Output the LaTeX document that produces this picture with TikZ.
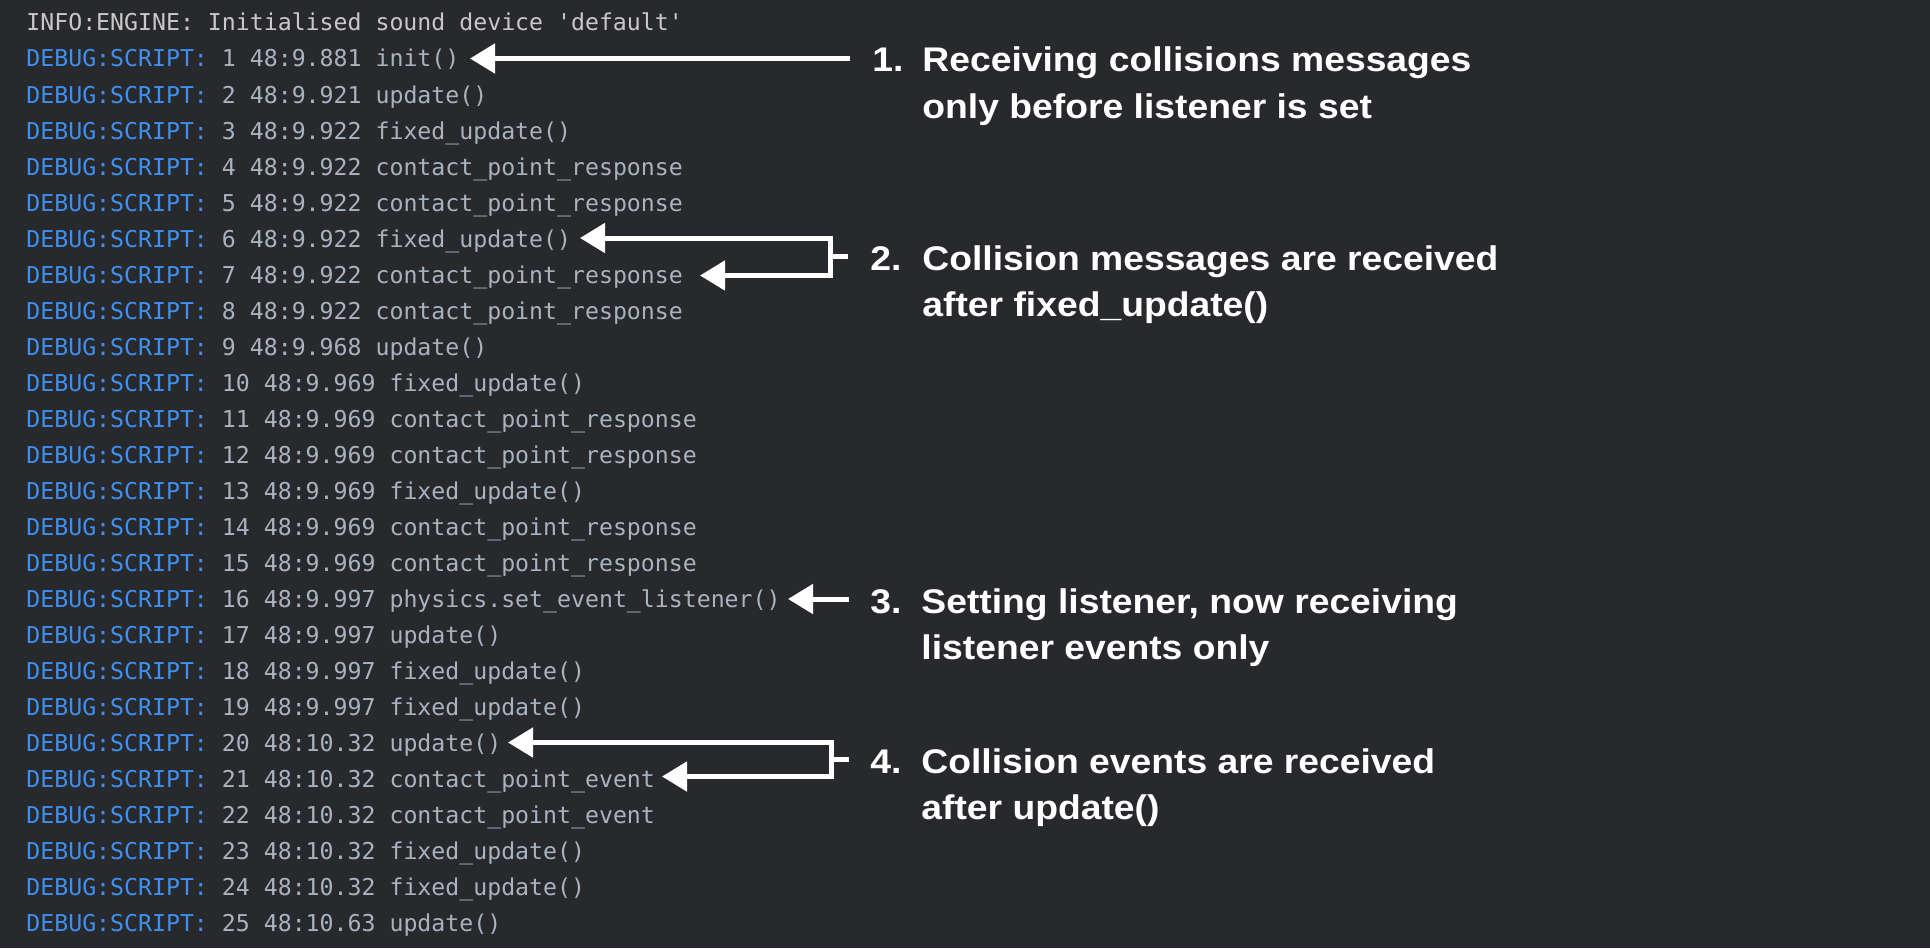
\documentclass[tikz,border=0pt]{standalone}
\usepackage{fontspec}
\setmonofont{DejaVu Sans Mono}
\newfontfamily\labfont{Liberation Sans}[FakeStretch=1.09]
\usetikzlibrary{arrows.meta}
\definecolor{bg}{HTML}{28292D}
\definecolor{dbgblue}{HTML}{3F8FF0}
\definecolor{logtxt}{HTML}{A8B3BF}
\definecolor{infotxt}{HTML}{C8C8C8}
\newcommand\dbg[1]{\textcolor{dbgblue}{DEBUG:SCRIPT:} #1}
\begin{document}
\begin{tikzpicture}[x=0.5pt,y=-0.5pt,
  logline/.style={anchor=base west,inner sep=0pt,font=\ttfamily\fontsize{11.6pt}{14pt}\selectfont,text=logtxt},
  labline/.style={anchor=base west,inner sep=0pt,font=\labfont\bfseries\fontsize{17.1pt}{20pt}\selectfont,text=white},
  tipstyle/.tip={Triangle[length=12.5pt,width=14.5pt]},
  arr/.style={draw=white,line width=2.5pt,-tipstyle},
  brk/.style={draw=white,line width=2.5pt,line join=miter,tipstyle-tipstyle},
  stub/.style={draw=white,line width=2.5pt}]
\fill[bg] (0,0) rectangle (1930,948);
\useasboundingbox (0,0) rectangle (1930,948);
% log lines
\node[logline,text=infotxt] (r0) at (26,30.9) {INFO:ENGINE: Initialised sound device 'default'};
\node[logline] (r1) at (26,66.9) {\dbg{1 48:9.881 init()}};
\node[logline] (r2) at (26,103.0) {\dbg{2 48:9.921 update()}};
\node[logline] (r3) at (26,139.0) {\dbg{3 48:9.922 fixed\_update()}};
\node[logline] (r4) at (26,175.1) {\dbg{4 48:9.922 contact\_point\_response}};
\node[logline] (r5) at (26,211.1) {\dbg{5 48:9.922 contact\_point\_response}};
\node[logline] (r6) at (26,247.1) {\dbg{6 48:9.922 fixed\_update()}};
\node[logline] (r7) at (26,283.2) {\dbg{7 48:9.922 contact\_point\_response}};
\node[logline] (r8) at (26,319.2) {\dbg{8 48:9.922 contact\_point\_response}};
\node[logline] (r9) at (26,355.3) {\dbg{9 48:9.968 update()}};
\node[logline] (r10) at (26,391.3) {\dbg{10 48:9.969 fixed\_update()}};
\node[logline] (r11) at (26,427.3) {\dbg{11 48:9.969 contact\_point\_response}};
\node[logline] (r12) at (26,463.4) {\dbg{12 48:9.969 contact\_point\_response}};
\node[logline] (r13) at (26,499.4) {\dbg{13 48:9.969 fixed\_update()}};
\node[logline] (r14) at (26,535.5) {\dbg{14 48:9.969 contact\_point\_response}};
\node[logline] (r15) at (26,571.5) {\dbg{15 48:9.969 contact\_point\_response}};
\node[logline] (r16) at (26,607.5) {\dbg{16 48:9.997 physics.set\_event\_listener()}};
\node[logline] (r17) at (26,643.6) {\dbg{17 48:9.997 update()}};
\node[logline] (r18) at (26,679.6) {\dbg{18 48:9.997 fixed\_update()}};
\node[logline] (r19) at (26,715.7) {\dbg{19 48:9.997 fixed\_update()}};
\node[logline] (r20) at (26,751.7) {\dbg{20 48:10.32 update()}};
\node[logline] (r21) at (26,787.7) {\dbg{21 48:10.32 contact\_point\_event}};
\node[logline] (r22) at (26,823.8) {\dbg{22 48:10.32 contact\_point\_event}};
\node[logline] (r23) at (26,859.8) {\dbg{23 48:10.32 fixed\_update()}};
\node[logline] (r24) at (26,895.9) {\dbg{24 48:10.32 fixed\_update()}};
\node[logline] (r25) at (26,931.9) {\dbg{25 48:10.63 update()}};
% labels
\node[labline] (n1) at (872,71.7) {1.};
\node[labline] (l1a) at (922,71.7) {Receiving collisions messages};
\node[labline] (l1b) at (922,118.2) {only before listener is set};
\node[labline] (n2) at (870,270) {2.};
\node[labline] (l2a) at (922,270) {Collision messages are received};
\node[labline] (l2b) at (922,316.5) {after fixed\_update()};
\node[labline] (n3) at (870,613) {3.};
\node[labline] (l3a) at (921,613) {Setting listener, now receiving};
\node[labline] (l3b) at (921,659.5) {listener events only};
\node[labline] (n4) at (870,773) {4.};
\node[labline] (l4a) at (921,773) {Collision events are received};
\node[labline] (l4b) at (921,819.5) {after update()};
% arrow coordinates
\coordinate (a1s) at (850,58.5);
\coordinate (a1t) at (470,58.5);
\coordinate (a2t) at (580,238);
\coordinate (a2c) at (830.5,238);
\coordinate (a2d) at (830.5,275.5);
\coordinate (a2b) at (700,275.5);
\coordinate (a2m) at (830.5,256.75);
\coordinate (a2s) at (848,256.75);
\coordinate (a3s) at (849,599);
\coordinate (a3t) at (788,599);
\coordinate (a4t) at (508,742.5);
\coordinate (a4c) at (831,742.5);
\coordinate (a4d) at (831,776.5);
\coordinate (a4b) at (662,776.5);
\coordinate (a4m) at (831,759.5);
\coordinate (a4s) at (849,759.5);
% arrows
\draw[arr] (a1s) -- (a1t);
\draw[brk] (a2t) -- (a2c) -- (a2d) -- (a2b);
\draw[stub] (a2m) -- (a2s);
\draw[arr] (a3s) -- (a3t);
\draw[brk] (a4t) -- (a4c) -- (a4d) -- (a4b);
\draw[stub] (a4m) -- (a4s);
\end{tikzpicture}
\end{document}
